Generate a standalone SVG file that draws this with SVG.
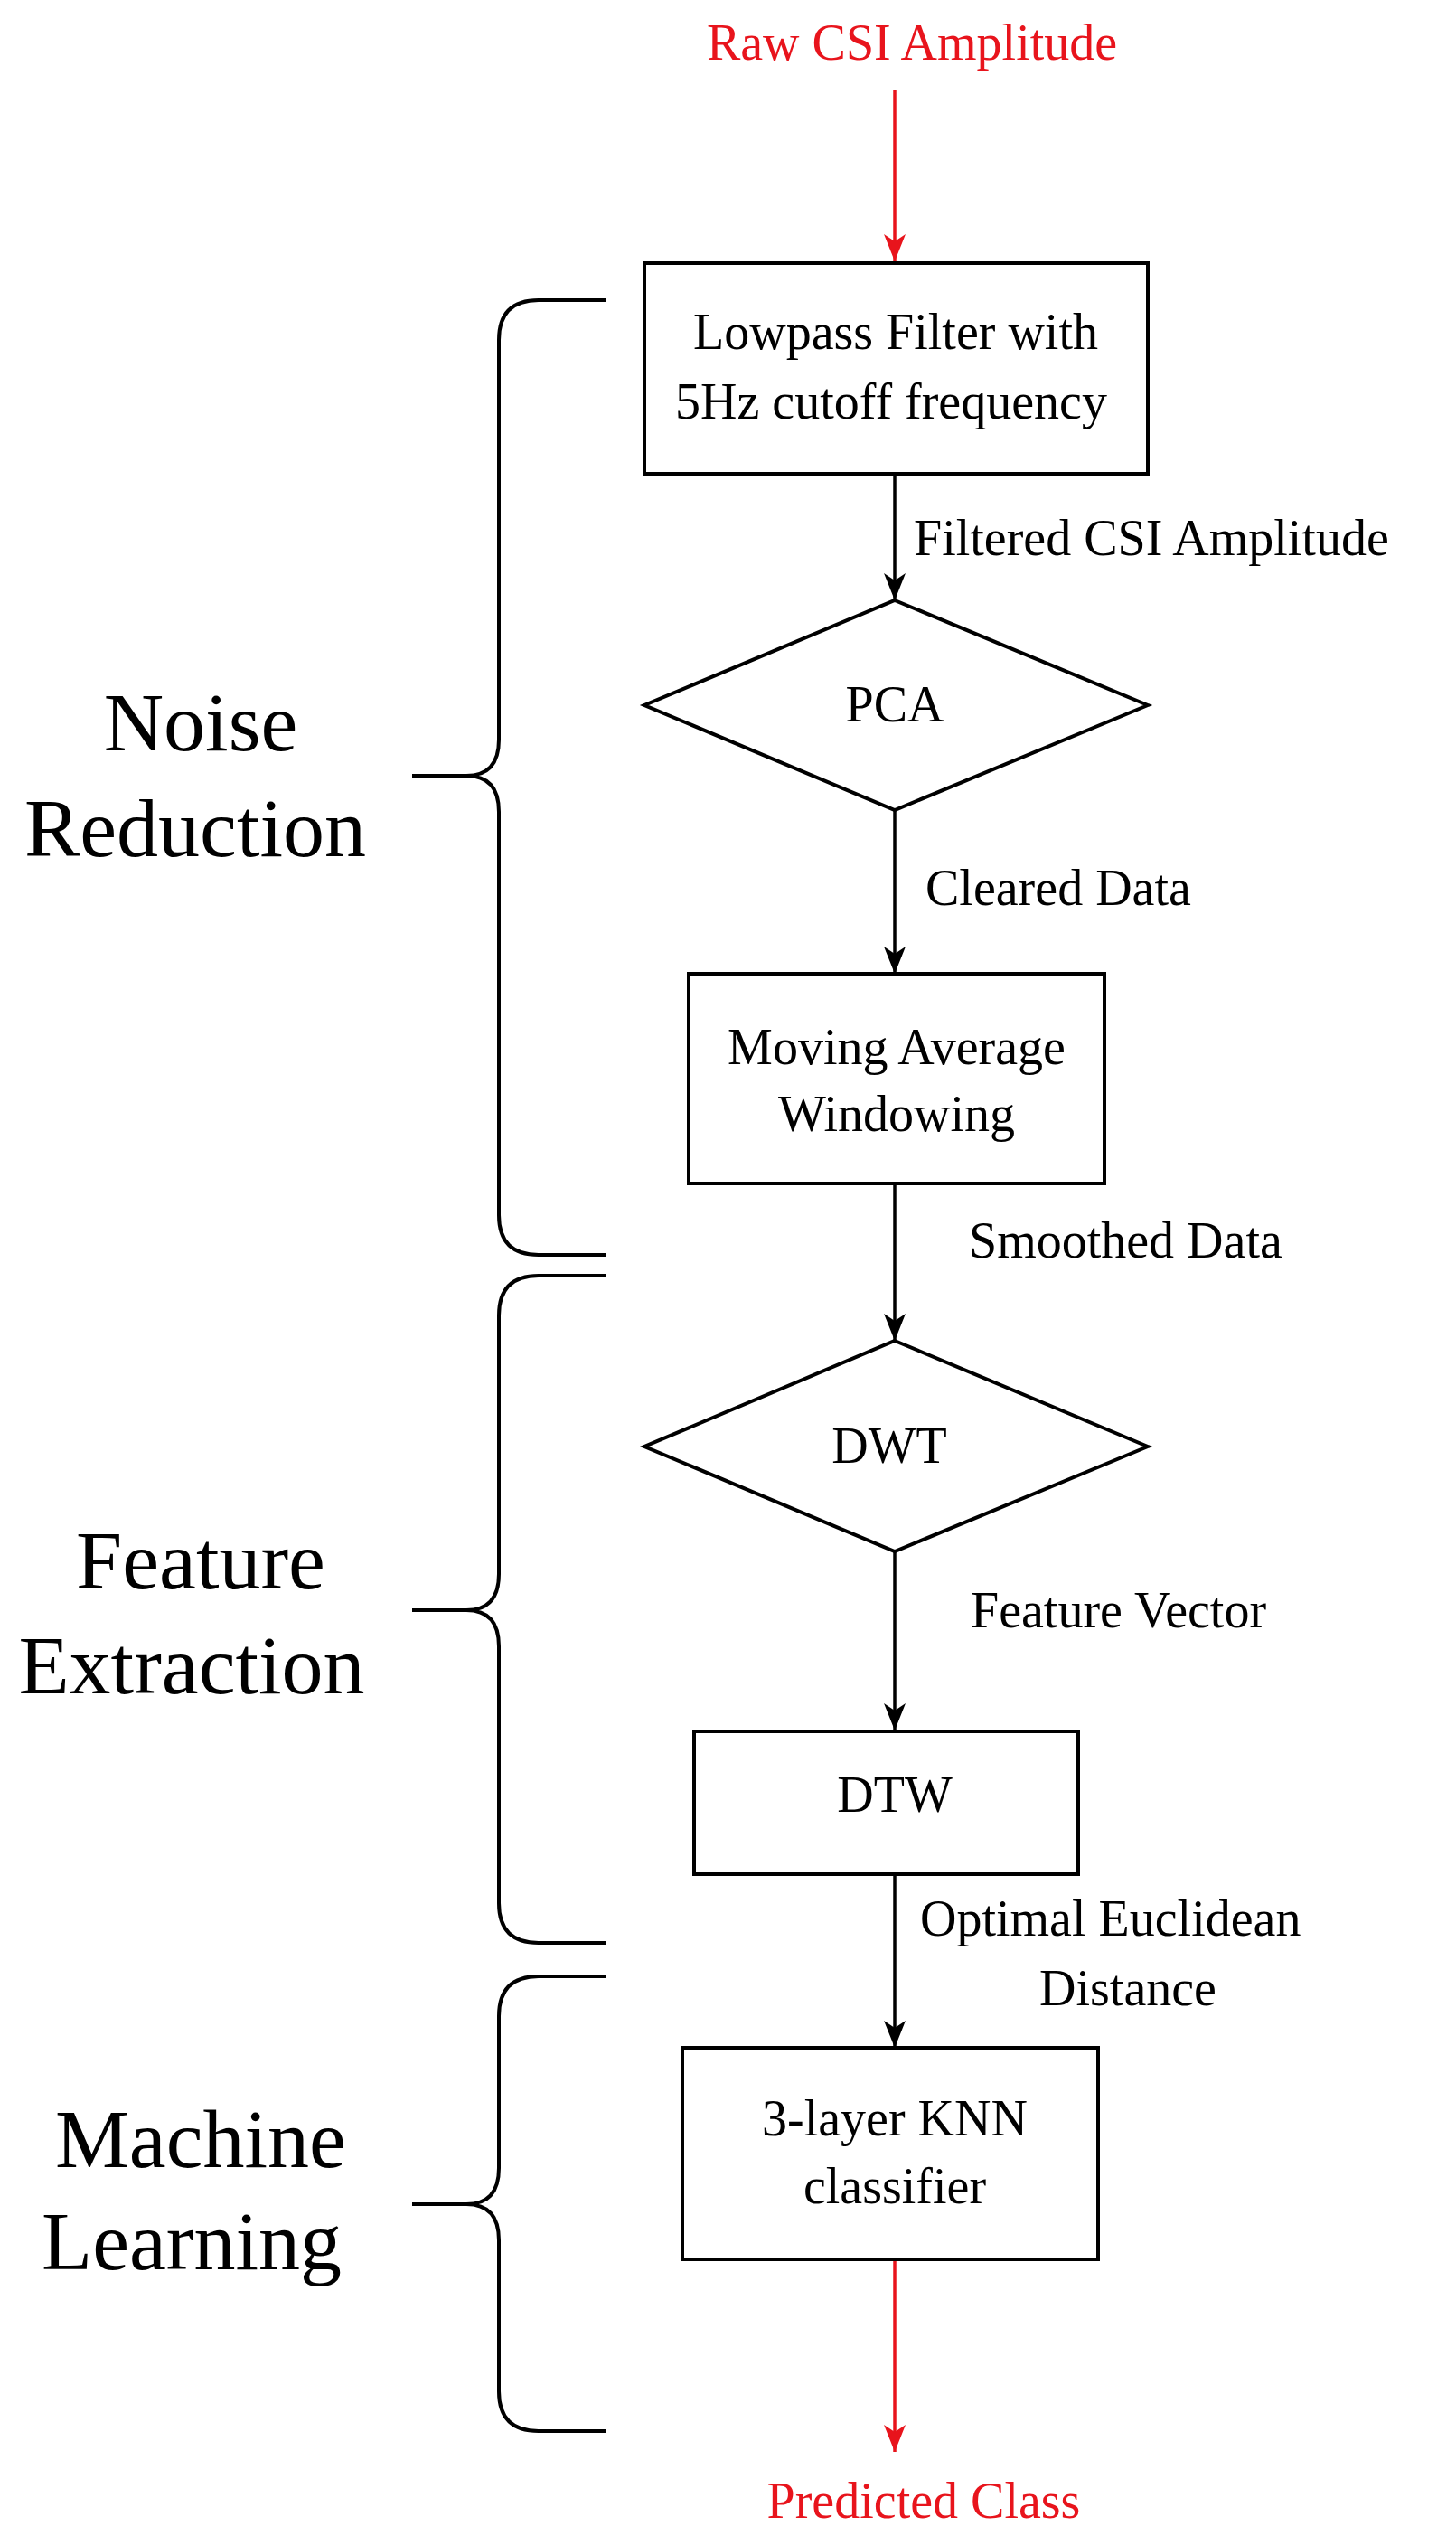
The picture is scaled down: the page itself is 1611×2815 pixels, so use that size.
<svg xmlns="http://www.w3.org/2000/svg" width="1611" height="2815" viewBox="0 0 1611 2815">
<style>
.t{font-family:"Liberation Serif","Times New Roman","DejaVu Serif",serif;font-size:56px;fill:#000;text-anchor:middle}
.s{text-anchor:start}
.r{fill:#e8141c}
.g{font-family:"Liberation Serif","Times New Roman","DejaVu Serif",serif;font-size:92px;fill:#000;text-anchor:middle}
.n{fill:#fff;stroke:#000;stroke-width:4}
.l{stroke:#000;stroke-width:3.5;fill:none}
.lr{stroke:#e8141c;stroke-width:3.5;fill:none}
.b{stroke:#000;stroke-width:4;fill:none}
</style>
<defs>
<marker id="a" viewBox="0 0 30 24" refX="30" refY="12" markerWidth="30" markerHeight="24" markerUnits="userSpaceOnUse" orient="auto"><path d="M0,0L30,12L0,24L8,12z" fill="#000"/></marker>
<marker id="ar" viewBox="0 0 30 24" refX="30" refY="12" markerWidth="30" markerHeight="24" markerUnits="userSpaceOnUse" orient="auto"><path d="M0,0L30,12L0,24L8,12z" fill="#e8141c"/></marker>
</defs>
<g transform="translate(6,0)">
<g id="connectors">
<path class="lr" d="M984,99V289" marker-end="url(#ar)"/>
<path class="l" d="M984,524V664" marker-end="url(#a)"/>
<path class="l" d="M984,896V1077" marker-end="url(#a)"/>
<path class="l" d="M984,1309V1483" marker-end="url(#a)"/>
<path class="l" d="M984,1716V1914" marker-end="url(#a)"/>
<path class="l" d="M984,2073V2265" marker-end="url(#a)"/>
<path class="lr" d="M984,2499V2712" marker-end="url(#ar)"/>
</g>
<g id="labels">
<text class="t r" x="1003" y="66">Raw CSI Amplitude</text>
<text class="t s" x="1005" y="614">Filtered CSI Amplitude</text>
<text class="t s" x="1018" y="1001">Cleared Data</text>
<text class="t s" x="1066" y="1391">Smoothed Data</text>
<text class="t s" x="1068" y="1800">Feature Vector</text>
<text class="t s" x="1012" y="2141">Optimal Euclidean</text>
<text class="t" x="1242" y="2218">Distance</text>
<text class="t r" x="1016" y="2785">Predicted Class</text>
</g>
<g id="lowpass"><rect class="n" x="707" y="291" width="557" height="233"/>
<text class="t" x="985" y="386">Lowpass Filter with</text><text class="t" x="980" y="463">5Hz cutoff frequency</text></g>
<g id="pca"><polygon class="n" points="984,664 1264,780 984,896 707,780"/><text class="t" x="984" y="798">PCA</text></g>
<g id="mavg"><rect class="n" x="756" y="1077" width="460" height="232"/>
<text class="t" x="986" y="1177">Moving Average</text><text class="t" x="986" y="1251">Windowing</text></g>
<g id="dwt"><polygon class="n" points="984,1483 1264,1600 984,1716 707,1600"/><text class="t" x="978" y="1618">DWT</text></g>
<g id="dtw"><rect class="n" x="762" y="1915" width="425" height="158"/><text class="t" x="984" y="2004">DTW</text></g>
<g id="knn"><rect class="n" x="749" y="2265" width="460" height="234"/>
<text class="t" x="984" y="2362">3-layer KNN</text><text class="t" x="984" y="2437">classifier</text></g>
<g id="noise"><path class="b" d="M664,332H590Q546,332 546,376V818Q546,858 510,858H450M510,858Q546,858 546,898V1344Q546,1388 590,1388H664"/>
<text class="g" x="216" y="830">Noise</text><text class="g" x="210" y="947">Reduction</text></g>
<g id="feature"><path class="b" d="M664,1411H590Q546,1411 546,1455V1741Q546,1781 510,1781H450M510,1781Q546,1781 546,1821V2105Q546,2149 590,2149H664"/>
<text class="g" x="216" y="1757">Feature</text><text class="g" x="206" y="1873">Extraction</text></g>
<g id="ml"><path class="b" d="M664,2186H590Q546,2186 546,2230V2398Q546,2438 510,2438H450M510,2438Q546,2438 546,2478V2645Q546,2689 590,2689H664"/>
<text class="g" x="216" y="2397">Machine</text><text class="g" x="206" y="2510">Learning</text></g>
</g>
</svg>
